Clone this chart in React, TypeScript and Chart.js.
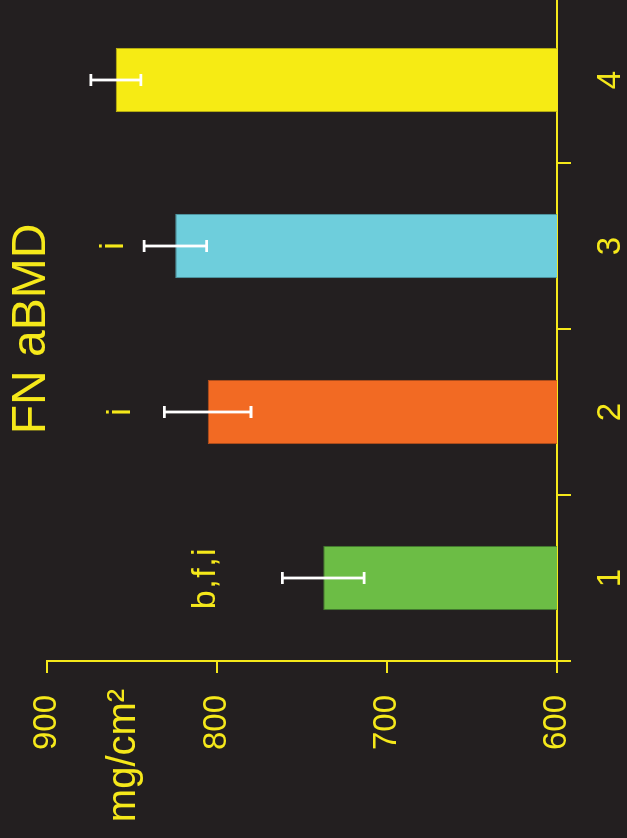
import React, { useEffect, useRef } from 'react';
import { Chart, registerables } from 'chart.js';

Chart.register(...registerables);

// ---- data ----
const categories = ['1', '2', '3', '4'];
const means = [737.5, 805.5, 824.5, 859.5];
const errors = [24, 25.5, 18.4, 14.7];
const sigLabels = ['b,f,i', 'i', 'i', ''];
const sigLabelLevels = [801, 851, 855.5, 0];
const yTicks = [600, 700, 800, 900];
const yMin = 600;
const yMax = 900;
const titleText = 'FN aBMD';
const unitText = 'mg/cm²';
const unitLevel = 848;

// ---- styles ----
const BG = '#231f20';
const YELLOW = '#f5e81a';
const barColors = ['#6cbd45', '#f26a23', '#6ecedc', '#f6eb14'];
const barEdges = ['#417b2e', '#b44e1a', '#4f9aa5', '#bdb30f'];
const FONT = '"Liberation Sans", Arial, sans-serif';

const W = 841; // canvas width (unrotated) -> page height
const H = 627; // canvas height (unrotated) -> page width

const annotPlugin = {
  id: 'annot',
  afterDatasetsDraw(chart: any) {
    const ctx = chart.ctx;
    const meta = chart.getDatasetMeta(0);
    const ys = chart.scales.y;
    ctx.save();
    meta.data.forEach((bar: any, i: number) => {
      const x = bar.x;
      const top = ys.getPixelForValue(means[i] + errors[i]);
      const bot = ys.getPixelForValue(means[i] - errors[i]);
      ctx.strokeStyle = '#ffffff';
      ctx.lineWidth = 2.8;
      ctx.beginPath();
      ctx.moveTo(x, top);
      ctx.lineTo(x, bot);
      ctx.moveTo(x - 6, top);
      ctx.lineTo(x + 6, top);
      ctx.moveTo(x - 6, bot);
      ctx.lineTo(x + 6, bot);
      ctx.stroke();
      if (sigLabels[i]) {
        ctx.fillStyle = YELLOW;
        ctx.font = `34px ${FONT}`;
        ctx.textAlign = 'center';
        ctx.textBaseline = 'alphabetic';
        try { (ctx as any).letterSpacing = sigLabels[i].length > 1 ? '1.5px' : '0px'; } catch (e) {}
        ctx.fillText(sigLabels[i], x, ys.getPixelForValue(sigLabelLevels[i]));
        try { (ctx as any).letterSpacing = '0px'; } catch (e) {}
      }
    });
    ctx.fillStyle = YELLOW;
    ctx.font = `40px ${FONT}`;
    ctx.textAlign = 'center';
    ctx.textBaseline = 'alphabetic';
    ctx.fillText(unitText, (ys.left + ys.right) / 2 - 6, ys.getPixelForValue(unitLevel));
    ctx.restore();
  },
};

export default function App() {
  const ref = useRef<HTMLCanvasElement | null>(null);

  useEffect(() => {
    if (!ref.current) return;
    const chart = new Chart(ref.current, {
      type: 'bar',
      data: {
        labels: categories,
        datasets: [
          {
            data: means,
            backgroundColor: barColors,
            borderColor: barEdges,
            borderWidth: 1,
            barPercentage: 1,
            categoryPercentage: 0.387,
          },
        ],
      },
      options: {
        responsive: false,
        maintainAspectRatio: false,
        devicePixelRatio: 1,
        animation: false,
        layout: { padding: { left: 0, right: 0, top: 0, bottom: 0 } },
        plugins: {
          legend: { display: false },
          tooltip: { enabled: false },
          title: {
            display: true,
            text: titleText,
            color: YELLOW,
            fullSize: false,
            font: { size: 48, family: FONT, weight: 'normal', lineHeight: 1 },
            padding: { top: 8, bottom: -9 },
          },
        },
        scales: {
          x: {
            offset: true,
            grid: {
              offset: true,
              drawOnChartArea: false,
              drawTicks: true,
              tickLength: 14,
              color: YELLOW,
              lineWidth: 2,
            },
            border: { display: true, color: YELLOW, width: 2 },
            ticks: {
              color: YELLOW,
              font: { size: 33, family: FONT },
              padding: 20,
              maxRotation: 0,
            },
            afterFit: (scale: any) => {
              scale.height = 70;
            },
          },
          y: {
            min: yMin,
            max: yMax,
            grid: {
              drawOnChartArea: false,
              drawTicks: true,
              tickLength: 12,
              color: YELLOW,
              lineWidth: 2,
            },
            border: { display: true, color: YELLOW, width: 2 },
            ticks: {
              color: YELLOW,
              font: { size: 33, family: FONT },
              padding: 22,
            },
            afterBuildTicks: (scale: any) => {
              scale.ticks = yTicks.map((v) => ({ value: v }));
            },
            afterFit: (scale: any) => {
              scale.width = 177;
            },
          },
        },
      },
      plugins: [annotPlugin],
    } as any);
    return () => chart.destroy();
  }, []);

  return (
    <div
      style={{
        position: 'fixed',
        left: 0,
        top: 0,
        width: 627,
        height: 838,
        overflow: 'hidden',
        background: BG,
      }}
    >
      <div
        style={{
          position: 'absolute',
          left: 0,
          top: 0,
          width: W,
          height: H,
          transformOrigin: '0 0',
          transform: 'translate(0px, 838px) rotate(-90deg)',
        }}
      >
        <canvas ref={ref} width={W} height={H} style={{ display: 'block', width: W, height: H }} />
      </div>
    </div>
  );
}
